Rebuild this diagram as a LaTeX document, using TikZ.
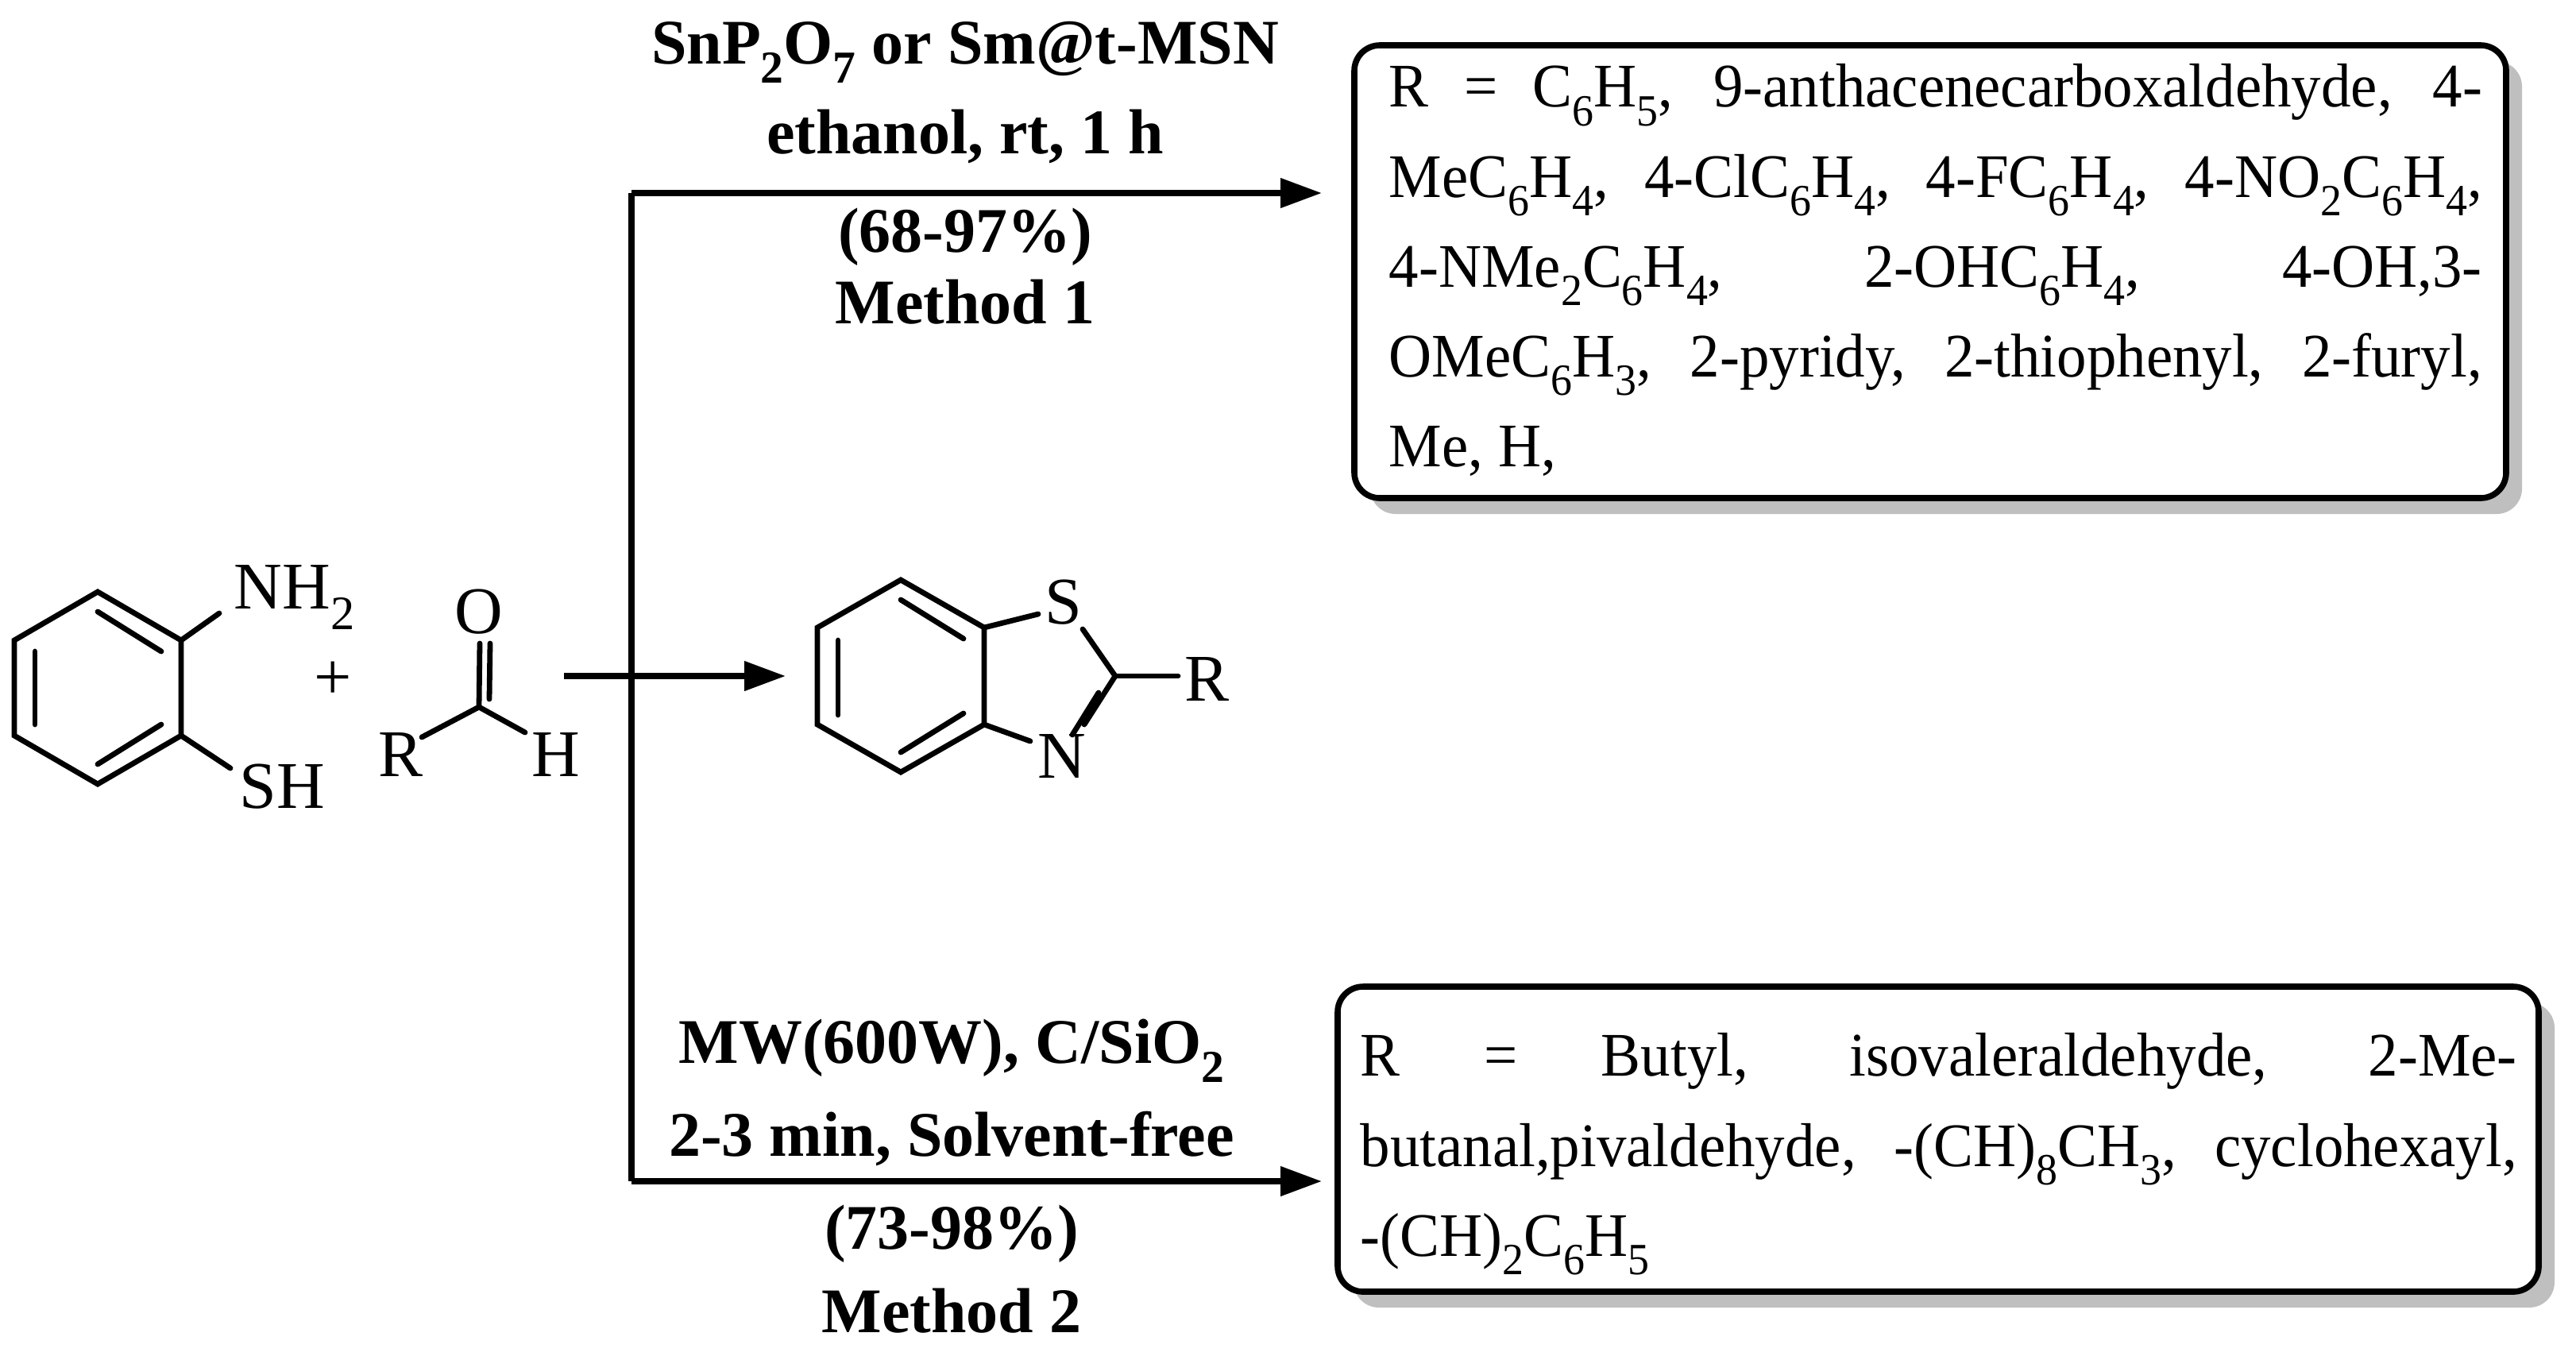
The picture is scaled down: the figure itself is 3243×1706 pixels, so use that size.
\documentclass[tikz,border=0pt]{standalone}
\usepackage{fontspec}
\setmainfont{Liberation Serif}
\newfontfamily\boxfont[FakeStretch=0.96]{Liberation Serif}
\usetikzlibrary{arrows.meta}
\newcommand{\sbs}[1]{\raisebox{-0.3em}{\fontsize{0.72em}{0.72em}\selectfont #1}}
\begin{document}
\begin{tikzpicture}[x=0.25pt,y=-0.25pt,
  bond/.style={line width=1.7pt,line cap=round},
  rxn/.style={line width=1.9pt,-{Triangle[length=13pt,width=9pt]}},
  atom/.style={font=\fontsize{21}{21}\selectfont,inner sep=1pt},
  cond/.style={font=\fontsize{20}{20}\selectfont\bfseries,inner sep=0pt},
  rbox/.style={draw,line width=1.9pt,rounded corners=8pt,fill=white},
  shadowbox/.style={fill=black!25,rounded corners=8pt},
  boxtext/.style={font=\boxfont\fontsize{19.5}{28.3}\selectfont,text width=344pt,align=justify,inner sep=0pt,anchor=north west}]
\useasboundingbox (0,0) rectangle (3243,1706);
% left benzene
\coordinate (a1) at (123,745); \coordinate (a2) at (228,806); \coordinate (a3) at (228,926);
\coordinate (a4) at (123,987); \coordinate (a5) at (18,926); \coordinate (a6) at (18,806);
\draw[bond] (a1)--(a2)--(a3)--(a4)--(a5)--(a6)--cycle;
\draw[bond] (123,770) -- (203,820);
\draw[bond] (44,820) -- (44,912);
\draw[bond] (123,962) -- (203,912);
\node[atom,anchor=west] (nh2) at (290,752) {NH\sbs{2}};
\node[atom,anchor=west] (sh) at (297,990) {SH};
\coordinate (nb) at (276,772); \coordinate (sb) at (290,967);
\draw[bond] (a2) -- (nb); \draw[bond] (a3) -- (sb);
\node[atom] (plus) at (419,857) {+};
% aldehyde
\coordinate (c1) at (603,890);
\node[atom] (o1) at (603,770) {O};
\node[atom] (r1) at (505,950) {R};
\node[atom] (h1) at (700,950) {H};
\coordinate (rb) at (531,928); \coordinate (hb) at (661,922);
\draw[bond] (rb) -- (c1) -- (hb);
\draw[bond] (c1) -- (604,810);
\draw[bond] (617,810) -- (616,880);
% main arrow and branches
\coordinate (m0) at (710,851); \coordinate (m1) at (989,851);
\draw[rxn] (m0) -- (m1);
\coordinate (vt) at (795,243); \coordinate (vb) at (795,1487);
\coordinate (t1) at (1664,243); \coordinate (b1) at (1664,1487);
\draw[line width=1.9pt] (vt) -- (vb);
\draw[rxn] (vt) -- (t1);
\draw[rxn] (vb) -- (b1);
% benzothiazole
\coordinate (p1) at (1134,730); \coordinate (p2) at (1239,790); \coordinate (p3) at (1239,912);
\coordinate (p4) at (1134,972); \coordinate (p5) at (1029,912); \coordinate (p6) at (1029,790);
\draw[bond] (p1)--(p2)--(p3)--(p4)--(p5)--(p6)--cycle;
\draw[bond] (1055,806) -- (1055,900);
\draw[bond] (1134,755) -- (1213,804);
\draw[bond] (1134,947) -- (1213,898);
\node[atom] (s1) at (1339,758) {S};
\node[atom] (n1) at (1337,952) {N};
\node[atom] (r2) at (1519,855) {R};
\draw[bond] (p2) -- (1307,773);
\draw[bond] (1363,792) -- (1404,851) -- (1365,912);
\draw[bond] (1383,872) -- (1350,925);
\draw[bond] (p3) -- (1297,933);
\draw[bond] (1404,851) -- (1483,851);
% conditions
\node[cond] (ct1) at (1215,66) {SnP\sbs{2}O\sbs{7} or Sm@t-MSN};
\node[cond] (ct2) at (1215,172) {ethanol, rt, 1 h};
\node[cond] (ct3) at (1215,298) {(68-97\%)};
\node[cond] (ct4) at (1215,380) {Method 1};
\node[cond] (cb1) at (1198,1323) {MW(600W), C/SiO\sbs{2}};
\node[cond] (cb2) at (1198,1433) {2-3 min, Solvent-free};
\node[cond] (cb3) at (1198,1553) {(73-98\%)};
\node[cond] (cb4) at (1198,1650) {Method 2};
% boxes
\fill[shadowbox] (1725,77) rectangle (3175,647);
\draw[rbox] (1705,57) rectangle (3155,627);
\node[boxtext] (tb) at (1748,80) {R = C\sbs{6}H\sbs{5}, 9-anthacenecarboxaldehyde, 4-\linebreak MeC\sbs{6}H\sbs{4}, 4-ClC\sbs{6}H\sbs{4}, 4-FC\sbs{6}H\sbs{4}, 4-NO\sbs{2}C\sbs{6}H\sbs{4},\linebreak 4-NMe\sbs{2}C\sbs{6}H\sbs{4}, 2-OHC\sbs{6}H\sbs{4}, 4-OH,3-\linebreak OMeC\sbs{6}H\sbs{3}, 2-pyridy, 2-thiophenyl, 2-furyl,\linebreak Me, H,};
\fill[shadowbox] (1704,1262) rectangle (3216,1646);
\draw[rbox] (1684,1242) rectangle (3196,1626);
\node[boxtext,text width=364pt] (bb) at (1712,1300) {R = Butyl, isovaleraldehyde, 2-Me-\linebreak butanal,pivaldehyde, -(CH)\sbs{8}CH\sbs{3}, cyclohexayl,\linebreak -(CH)\sbs{2}C\sbs{6}H\sbs{5}};
\end{tikzpicture}
\end{document}
